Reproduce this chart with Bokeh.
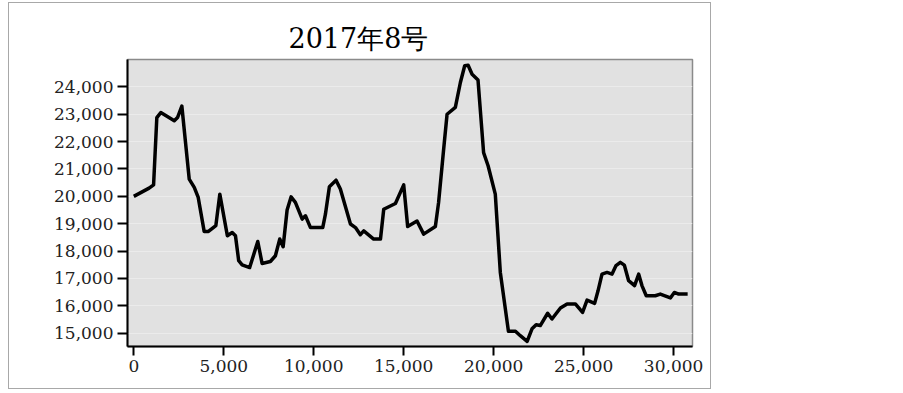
from bokeh.plotting import figure
from bokeh.models import FixedTicker, CustomJSTickFormatter, Title
from bokeh.embed import file_html
from bokeh.resources import INLINE

title_text = "2017年8号"
x_vals = [0, 850, 1100, 1280, 1500, 2250, 2430, 2670, 3080, 3360, 3580, 3910, 4150, 4560, 4780,
          5200, 5470, 5650, 5830, 6020, 6440, 6890, 7130, 7590, 7870, 8110, 8300, 8520, 8740, 8980,
          9360, 9540, 9820, 10500, 10650, 10870, 11240, 11480, 12040, 12320, 12590, 12780, 13330,
          13710, 13890, 14540, 15000, 15220, 15740, 16110, 16760, 16940, 17220, 17410, 17870, 18150,
          18390, 18580, 18800, 19130, 19440, 19690, 20090, 20370, 20820, 21210, 21480, 21860, 22130,
          22360, 22590, 23000, 23240, 23710, 24080, 24540, 24940, 25190, 25610, 25800, 26020, 26300,
          26580, 26800, 27040, 27260, 27500, 27830, 28060, 28240, 28480, 28980, 29260, 29820, 30040,
          30280, 30780]
y_vals = [20000, 20300, 20420, 22880, 23060, 22760, 22880, 23300, 20630, 20330, 19960, 18720, 18720,
          18930, 20080, 18560, 18680, 18560, 17650, 17500, 17400, 18350, 17550, 17620, 17830, 18440,
          18160, 19500, 19980, 19780, 19170, 19290, 18860, 18860, 19350, 20350, 20590, 20270, 18990,
          18860, 18600, 18740, 18440, 18440, 19530, 19740, 20420, 18900, 19100, 18620, 18900, 19780,
          21720, 23000, 23250, 24160, 24770, 24790, 24460, 24250, 21600, 21120, 20080, 17220, 15070,
          15070, 14910, 14700, 15160, 15310, 15280, 15730, 15520, 15920, 16070, 16070, 15760, 16210,
          16090, 16550, 17160, 17220, 17160, 17470, 17590, 17490, 16920, 16740, 17160, 16740, 16370,
          16370, 16430, 16290, 16490, 16430, 16430]
x_ticks = [0, 5000, 10000, 15000, 20000, 25000, 30000]
y_ticks = [15000, 16000, 17000, 18000, 19000, 20000, 21000, 22000, 23000, 24000]

FONT = "DejaVu Serif"

p = figure(width=703, height=387, output_backend="svg", toolbar_location=None,
           x_range=(-350, 31050), y_range=(14515, 25000),
           min_border_left=118, min_border_right=20, min_border_top=56, min_border_bottom=44)
p.styles = {"border": "1px solid #a8a8a8", "margin-left": "8px", "margin-top": "2px"}

t = Title(text=title_text, align="left", offset=161, text_font=FONT, vertical_align="top",
          text_font_size="27px", text_font_style="normal", text_color="#000000", standoff=8)
p.add_layout(t, "above")

p.background_fill_color = "#e1e1e1"
p.border_fill_color = "white"
p.outline_line_color = "#8a8a8a"
p.outline_line_width = 1.5

p.line(x_vals, y_vals, line_color="black", line_width=3.5, line_join="round")

fmt = CustomJSTickFormatter(code="return tick.toLocaleString('en-US');")

p.xaxis.ticker = FixedTicker(ticks=x_ticks)
p.yaxis.ticker = FixedTicker(ticks=y_ticks)
p.xaxis.formatter = fmt
p.yaxis.formatter = fmt
for ax in (p.xaxis, p.yaxis):
    ax.axis_line_color = "black"
    ax.axis_line_width = 2
    ax.major_tick_line_color = "black"
    ax.major_tick_line_width = 2
    ax.minor_tick_line_color = None
    ax.major_tick_in = 0
    ax.major_label_text_font = FONT
    ax.major_label_text_font_size = "17px"
    ax.major_label_text_color = "#222222"
p.yaxis.major_tick_out = 10
p.yaxis.major_label_standoff = 4
p.xaxis.major_tick_out = 9
p.xaxis.major_label_standoff = 4

p.xgrid.grid_line_color = None
p.ygrid.ticker = FixedTicker(ticks=y_ticks)
p.ygrid.grid_line_color = "#ebebeb"
p.ygrid.grid_line_width = 1

open("out.html", "w").write(file_html(p, INLINE))
